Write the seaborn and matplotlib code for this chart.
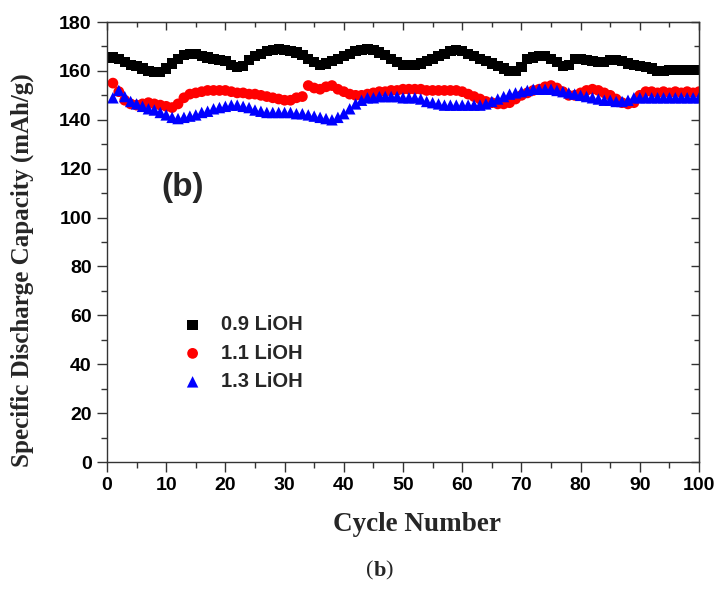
import numpy as np
import pandas as pd
import matplotlib
matplotlib.use("Agg")
import matplotlib.pyplot as plt
import seaborn as sns
from matplotlib.ticker import MultipleLocator

cycles = list(range(1, 101))
series_names = ["0.9 LiOH", "1.1 LiOH", "1.3 LiOH"]

cap_09 = [165.5, 165, 163.5, 162.5, 162, 161, 160, 159.5, 159.5, 161,
          163, 165, 166.5, 167, 167, 166, 165.5, 165, 164.5, 164,
          162.5, 161.5, 162, 164.5, 166, 167, 168, 168.5, 169, 168.5,
          168, 167.5, 166.5, 165, 163.5, 162.5, 163, 164, 165, 166,
          167, 168, 168.5, 169, 168.5, 167.5, 166.5, 165, 163.5, 162.5,
          162.5, 162.5, 163, 164, 165, 166, 167, 168, 168.5, 168,
          167, 166, 165, 164, 163, 162, 161, 160, 160, 161.5,
          165, 165.5, 166, 166, 165, 163.5, 162, 162.5, 165, 165,
          164.5, 164, 163.5, 163.5, 164.5, 164.5, 164, 163, 162.5, 162,
          161.5, 161, 160, 160, 160.5, 160.5, 160.5, 160.5, 160.5, 160.5]

cap_11 = [155, 151.5, 148, 146.5, 146, 146.5, 147, 146.5, 146, 145.5,
          145, 146.5, 149, 150.5, 151, 151.5, 152, 152, 152, 152,
          151.5, 151, 151, 150.5, 150.5, 150, 149.5, 149, 148.5, 148,
          148, 149, 149.5, 154, 153, 152.5, 153.5, 154, 152.5, 151.5,
          150.5, 150, 150, 150.5, 151, 151.5, 151.5, 152, 152, 152.5,
          152.5, 152.5, 152.5, 152, 152, 152, 152, 152, 152, 151.5,
          150.5, 149.5, 148.5, 147.5, 147, 146.5, 146.5, 147, 148.5, 150,
          151, 152, 152.5, 153.5, 154, 153, 151.5, 150, 150, 151,
          152, 152.5, 152, 151, 150, 148.5, 147, 146.5, 147, 150,
          151.5, 151.5, 151, 151.5, 151, 151.5, 151, 151.5, 151, 151.5]

cap_13 = [149, 152, 149.5, 147.5, 146.5, 145.5, 144.5, 144, 143, 142,
          141, 140.5, 141, 141.5, 142, 143, 143.5, 144.5, 145, 145.5,
          146, 146, 145.5, 145, 144, 143.5, 143, 143, 143, 143,
          143, 142.5, 142.5, 142, 141.5, 141, 140.5, 140, 141, 142.5,
          144.5, 146.5, 148, 149, 149, 149.5, 149.5, 149.5, 149.5, 149,
          149, 149, 148.5, 147.5, 147, 146.5, 146, 146, 146, 146,
          146, 146, 146, 146.5, 147.5, 148.5, 149.5, 150.5, 151, 151.5,
          152, 152.5, 152.5, 152.5, 152.5, 152, 151.5, 151, 150.5, 150,
          149.5, 149, 148.5, 148, 148, 147.5, 147.5, 148, 149, 149,
          149, 149, 149, 149, 149, 149, 149, 149, 149, 149]

x_ticks = list(range(0, 101, 10))
y_ticks = list(range(0, 181, 20))

df = pd.DataFrame({
    "cycle": cycles * 3,
    "cap": cap_09 + cap_11 + cap_13,
    "sample": [series_names[0]] * 100 + [series_names[1]] * 100 + [series_names[2]] * 100,
})

sns.set_style("ticks")
plt.rcParams["font.family"] = ["Liberation Sans", "DejaVu Sans"]

fig = plt.figure(figsize=(7.16, 5.90), dpi=100)
ax = fig.add_axes([0.1494, 0.2169, 0.8269, 0.7458])

palette = {series_names[0]: "#000000", series_names[1]: "#ff0000", series_names[2]: "#0000ff"}
markers = {series_names[0]: "s", series_names[1]: "o", series_names[2]: "^"}
sizes_map = {series_names[0]: 55, series_names[1]: 60, series_names[2]: 68}

for name in series_names:
    sub = df[df["sample"] == name]
    sns.scatterplot(data=sub, x="cycle", y="cap", color=palette[name],
                    marker=markers[name], s=sizes_map[name], linewidth=0,
                    edgecolor="none", ax=ax, label=name, legend=False)

ax.set_xlim(0, 100)
ax.set_ylim(0, 180)
ax.set_xticks(x_ticks)
ax.set_yticks(y_ticks)
ax.xaxis.set_minor_locator(MultipleLocator(5))
ax.yaxis.set_minor_locator(MultipleLocator(10))

for sp in ax.spines.values():
    sp.set_visible(True)
    sp.set_linewidth(1.0)
    sp.set_color("#333333")

ax.tick_params(axis="both", which="major", direction="out", length=7, width=1,
               labelsize=14, colors="#333333", labelcolor="black", pad=4)
ax.tick_params(axis="both", which="minor", direction="out", length=4, width=1,
               colors="#333333")
for lab in ax.get_xticklabels() + ax.get_yticklabels():
    lab.set_fontweight("bold")

# inward ticks on top and right
secx = ax.secondary_xaxis("top")
secx.set_xticks(x_ticks)
secx.xaxis.set_minor_locator(MultipleLocator(5))
secx.tick_params(which="major", direction="in", length=6, width=1, labeltop=False, colors="#333333")
secx.tick_params(which="minor", direction="in", length=3.5, width=1, colors="#333333")
secx.set_xticklabels([])
secy = ax.secondary_yaxis("right")
secy.set_yticks(y_ticks)
secy.yaxis.set_minor_locator(MultipleLocator(10))
secy.tick_params(which="major", direction="in", length=6, width=1, colors="#333333")
secy.tick_params(which="minor", direction="in", length=3.5, width=1, colors="#333333")
secy.set_yticklabels([])

ax.set_xlabel("Cycle Number", family="Liberation Serif", fontweight="bold",
              fontsize=19.5)
ax.set_ylabel("Specific Discharge Capacity (mAh/g)", family="Liberation Serif",
              fontweight="bold", fontsize=18)
ax.xaxis.set_label_coords(0.524, -0.114)
ax.yaxis.set_label_coords(-0.124, 0.437)

ax.text(12.8, 112.5, "(b)", fontsize=24, fontweight="bold", ha="center", va="center")

leg = ax.legend(loc="upper left", bbox_to_anchor=(0.097, 0.352), frameon=False,
                prop={"weight": "bold", "size": 14.5}, handletextpad=0.4,
                labelspacing=0.47, borderaxespad=0)

fig.text(0.522, 0.032, "(", family="Liberation Serif", fontsize=16, ha="right", va="center")
fig.text(0.522, 0.032, "b", family="Liberation Serif", fontsize=16, fontweight="bold", ha="left", va="center")
fig.text(0.5375, 0.032, ")", family="Liberation Serif", fontsize=16, ha="left", va="center")

fig.savefig("out.png", dpi=100)
